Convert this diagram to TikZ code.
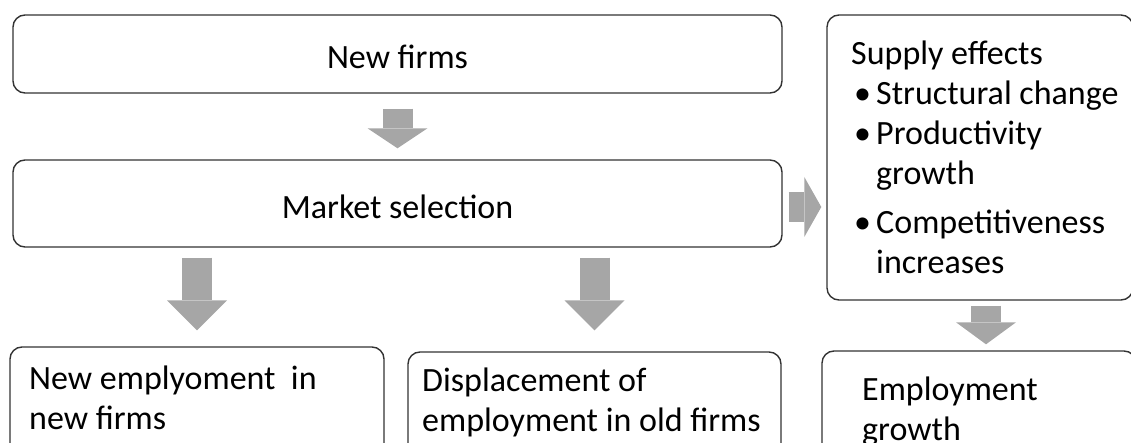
\documentclass[tikz,border=0pt]{standalone}
\usepackage{fontspec}
\setmainfont{Carlito}
\usetikzlibrary{arrows.meta,positioning,calc}
\definecolor{arrowgray}{RGB}{166,166,166}
\newcommand{\bul}{\makebox[25pt][l]{\hspace{3pt}•}}
\newcommand{\lines}[1]{\begin{tabular}[t]{@{}l@{}}#1\end{tabular}}

\begin{document}
\begin{tikzpicture}[x=1pt,y=-1pt,font=\fontsize{34}{40}\selectfont,
  box/.style={draw=black!80, line width=1.4pt, rounded corners=12pt, inner sep=0pt, text height=30pt, text depth=0pt},
  txt/.style={anchor=base west, inner sep=0pt},
  flow/.style={draw=arrowgray, line width=30pt, -{Triangle[width=60pt,length=#1,line width=0pt]}},
  flow/.default=20pt]
\useasboundingbox (0,0) rectangle (1131,443);
\clip (0,0) rectangle (1131,443);
% top row
\node[box, minimum width=769pt, minimum height=78pt] (newfirms) at (397.5,54) {New firms};
\node[box, minimum width=769pt, minimum height=87pt] (market) at (397.5,203.5) {Market selection};
\node[box, minimum width=306pt, minimum height=285pt] (supplybox) at (980,157.5) {};
\node[txt] (supplytxt) at (851,65) {\lines{Supply effects\\ \bul Structural change\\ \bul Productivity\\ \hspace*{25pt}growth\\[9pt] \bul Competitiveness\\ \hspace*{25pt}increases}};
% bottom row, cut off at the lower edge
\node[box, minimum width=374pt, minimum height=130pt] (newempbox) at (197,412) {};
\node[box, minimum width=373pt, minimum height=130pt] (dispbox) at (594.5,417) {};
\node[box, minimum width=314pt, minimum height=130pt] (empbox) at (979,416) {};
\node[txt] (newemptxt) at (29,389) {\lines{New emplyoment\ \ in\\ new firms}};
\node[txt] (disptxt) at (422,391) {\lines{Displacement of\\ employment in old firms}};
\node[txt] (emptxt) at (862,400) {\lines{Employment\\ growth}};
% block arrows
\draw[flow, shorten <=15pt, shorten >=11pt] (newfirms) -- (market);
\draw[flow=17pt, shorten <=6pt, shorten >=5pt] ([yshift=-3.5pt]market.east) -- ([yshift=-3.5pt]market.east -| supplybox.west);
\draw[flow=30pt, shorten <=10pt, shorten >=16pt] (newempbox |- market.south) -- (newempbox.north);
\draw[flow=30pt, shorten <=10pt, shorten >=21pt] (dispbox |- market.south) -- (dispbox.north);
\draw[flow=22pt, shorten <=5pt, shorten >=6pt] ([xshift=6pt]supplybox.south) -- ([xshift=6pt]supplybox.south |- empbox.north);
\end{tikzpicture}
\end{document}
